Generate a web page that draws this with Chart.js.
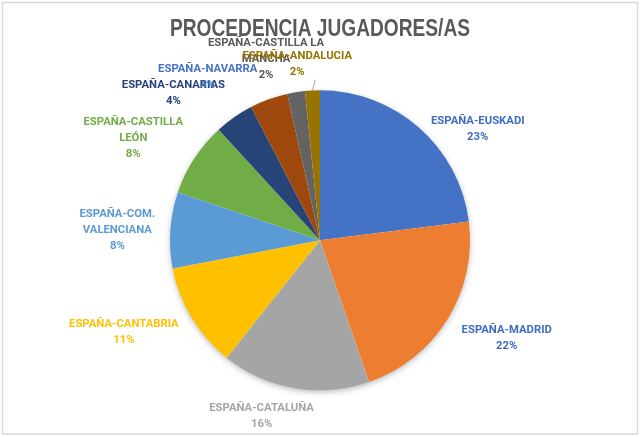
<!DOCTYPE html>
<html>
<head>
<meta charset="utf-8">
<script src="https://cdn.jsdelivr.net/npm/chart.js@4.4.1/dist/chart.umd.min.js"></script>
<style>
  html, body { margin: 0; padding: 0; background: #fff; }
  #wrap { width: 640px; height: 437px; position: relative; }
</style>
</head>
<body>
<div id="wrap"><canvas id="procedenciaChart"></canvas></div>
<script>
// Categories (already split in lines the way Excel wraps them)
const categories = [
  ["ESPAÑA-EUSKADI"],
  ["ESPAÑA-MADRID"],
  ["ESPAÑA-CATALUÑA"],
  ["ESPAÑA-CANTABRIA"],
  ["ESPAÑA-COM.", "VALENCIANA"],
  ["ESPAÑA-CASTILLA", "LEÓN"],
  ["ESPAÑA-CANARIAS"],
  ["ESPAÑA-NAVARRA"],
  ["ESPAÑA-CASTILLA LA", "MANCHA"],
  ["ESPAÑA-ANDALUCIA"]
];
// Share of players per region (%)
const shares = [23, 21.7, 16, 11.3, 8.2, 8, 4.2, 4.1, 1.9, 1.6];

const sliceColors = ["#4472C4", "#ED7D31", "#A5A5A5", "#FFC000", "#5B9BD5",
                     "#70AD47", "#264478", "#9E480E", "#636363", "#997300"];
const labelColors = ["#3E6CC2", "#3E6CC2", "#A5A5A5", "#FFC000", "#5B9BD5",
                     "#70AD47", "#264478", "#4472C4", "#595959", "#997300"];

// label placement: angle nudge (deg, clockwise) and gap from the pie edge
const labelLayout = [
  { shift: 13.5, gap: 15 },
  { shift: -4.3, gap: 26 },
  { shift: 8.7, gap: 18 },
  { shift: 6, gap: 29 },
  { shift: -1, gap: 15 },
  { shift: -4.4, gap: 13 },
  { shift: -10, gap: 35 },
  { shift: -14.5, gap: 29 },
  { shift: -7.4, gap: 14 },
  { shift: -4.5, gap: 11, leader: true }
];

const labelFont = "bold 11.3px Roboto, 'Liberation Sans', sans-serif";
const lineH = 16;

const sliceLabels = {
  id: 'sliceLabels',
  beforeDraw(chart) {
    const ctx = chart.ctx;
    ctx.save();
    ctx.fillStyle = '#fff';
    ctx.fillRect(0, 0, chart.width, chart.height);
    ctx.strokeStyle = '#D9D9D9';
    ctx.lineWidth = 1.5;
    ctx.strokeRect(2.5, 2.5, chart.width - 5, chart.height - 5.5);
    ctx.restore();
  },
  beforeDatasetsDraw(chart) {
    const arc = chart.getDatasetMeta(0).data[0];
    if (!arc) return;
    const ctx = chart.ctx;
    ctx.save();
    ctx.shadowColor = 'rgba(0,0,0,0.3)';
    ctx.shadowBlur = 6;
    ctx.shadowOffsetY = 2;
    ctx.fillStyle = '#fff';
    ctx.beginPath();
    ctx.arc(arc.x, arc.y, arc.outerRadius - 0.5, 0, Math.PI * 2);
    ctx.fill();
    ctx.restore();
  },
  afterDatasetsDraw(chart) {
    const ctx = chart.ctx;
    const meta = chart.getDatasetMeta(0);
    const total = shares.reduce((a, b) => a + b, 0);
    ctx.save();
    ctx.font = labelFont;
    ctx.textAlign = 'center';
    ctx.textBaseline = 'middle';
    meta.data.forEach((arc, i) => {
      const p = arc.getProps(['x', 'y', 'startAngle', 'endAngle', 'outerRadius'], true);
      const lay = labelLayout[i];
      const mid = (p.startAngle + p.endAngle) / 2;
      const ang = mid + lay.shift * Math.PI / 180;
      const ux = Math.cos(ang), uy = Math.sin(ang);
      const lines = categories[i].concat([Math.round(shares[i] / total * 100) + '%']);
      const w = Math.max(...lines.map(l => ctx.measureText(l).width));
      const h = lines.length * lineH;
      const ext = Math.min(Math.abs(ux) > 1e-6 ? w / 2 / Math.abs(ux) : Infinity,
                           Math.abs(uy) > 1e-6 ? h / 2 / Math.abs(uy) : Infinity);
      const d = p.outerRadius + lay.gap + ext;
      const cx = p.x + ux * d, cy = p.y + uy * d;
      if (lay.leader) {
        ctx.strokeStyle = '#A6A6A6';
        ctx.lineWidth = 1;
        ctx.beginPath();
        ctx.moveTo(cx + 18, cy + h / 2 - 1);
        ctx.lineTo(p.x + Math.cos(mid) * p.outerRadius, p.y + Math.sin(mid) * p.outerRadius);
        ctx.stroke();
      }
      ctx.fillStyle = labelColors[i];
      lines.forEach((l, k) => {
        ctx.fillText(l, cx, cy - h / 2 + lineH / 2 + k * lineH);
      });
    });
    ctx.restore();
  }
};

const config = {
  type: 'pie',
  data: {
    labels: categories,
    datasets: [{
      data: shares,
      backgroundColor: sliceColors,
      borderWidth: 0,
      hoverOffset: 0
    }]
  },
  options: {
    responsive: true,
    maintainAspectRatio: false,
    animation: false,
    layout: { padding: { left: 170, right: 170, top: 0, bottom: 0 } },
    plugins: {
      legend: { display: false },
      tooltip: { enabled: false },
      title: {
        display: true,
        text: 'PROCEDENCIA JUGADORES/AS',
        color: '#595959',
        font: { family: "'Liberation Sans', Arial, sans-serif", size: 23, weight: 'bold' },
        padding: { top: 16, bottom: 0 }
      }
    }
  },
  plugins: [sliceLabels]
};

window.addEventListener('DOMContentLoaded', () => {
  new Chart(document.getElementById('procedenciaChart'), config);
});
</script>
</body>
</html>
